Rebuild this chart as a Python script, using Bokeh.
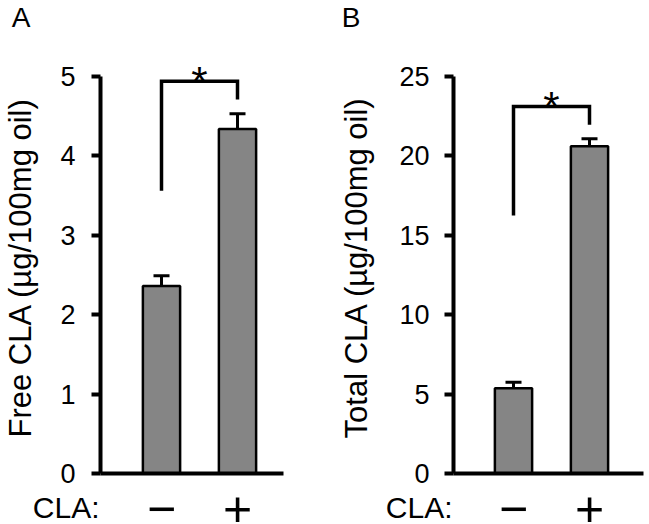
from bokeh.plotting import figure
from bokeh.layouts import row, column
from bokeh.models import (ColumnDataSource, FixedTicker, Whisker, TeeHead,
                          Range1d)
from bokeh.embed import file_html
from bokeh.resources import INLINE
from bokeh.core.properties import value

# ---------------- data ----------------
groups = ["\u2212", "+"]          # CLA treatment: minus / plus
xpos = [1, 2]

free_mean = [2.36, 4.34]
free_sem = [0.13, 0.19]
free_bracket = [3.56, 4.94, 4.71]      # left foot, top, right foot
free_ticks = [0, 1, 2, 3, 4, 5]

total_mean = [5.37, 20.61]
total_sem = [0.38, 0.47]
total_bracket = [16.25, 23.11, 21.96]
total_ticks = [0, 5, 10, 15, 20, 25]

FONT = "Liberation Sans"

TOP_H = 34
MAIN_TOP = 27
FRAME_H = 412
MAIN_BOTTOM = 17
BOT_H = 524 - TOP_H - MAIN_TOP - FRAME_H - MAIN_BOTTOM
AXIS_PX = 397.0
SPACING = 76.0


def blank(fig):
    fig.outline_line_color = None
    fig.background_fill_color = "white"
    fig.border_fill_color = "white"
    for g in fig.grid:
        g.visible = False


def label_axis(ax, tick, text, size, standoff):
    ax.ticker = FixedTicker(ticks=[tick])
    ax.major_label_overrides = {tick: text}
    ax.axis_line_color = None
    ax.major_tick_line_color = None
    ax.minor_tick_line_color = None
    ax.major_tick_out = 0
    ax.major_tick_in = 0
    ax.major_label_standoff = standoff
    ax.major_label_text_font = FONT
    ax.major_label_text_font_size = size
    ax.major_label_text_color = "black"


def make_panel(letter, ylabel, means, sems, bracket, ticks,
               width, border_left, frame_w, bar_off_px,
               tick_standoff, label_standoff, letter_right_px):
    border_right = width - border_left - frame_w
    ymax = ticks[-1]
    ppu_y = AXIS_PX / ymax
    y_end = FRAME_H / ppu_y

    x_start = 1 - bar_off_px / SPACING
    x_end = x_start + frame_w / SPACING
    xr = Range1d(x_start, x_end)

    # ---- top strip: panel letter ----
    top = figure(width=width, height=TOP_H, output_backend="svg",
                 toolbar_location=None, x_axis_location=None,
                 x_range=xr, y_range=Range1d(0, TOP_H),
                 min_border_left=border_left, min_border_right=border_right,
                 min_border_top=0, min_border_bottom=0)
    blank(top)
    label_axis(top.yaxis[0], 17, letter, "28px",
               border_left - letter_right_px)

    # ---- main plot ----
    p = figure(width=width, height=MAIN_TOP + FRAME_H + MAIN_BOTTOM,
               output_backend="svg", toolbar_location=None,
               x_range=xr, y_range=Range1d(0, y_end),
               min_border_left=border_left, min_border_right=border_right,
               min_border_top=MAIN_TOP, min_border_bottom=MAIN_BOTTOM)
    blank(p)

    ya = p.yaxis[0]
    ya.ticker = FixedTicker(ticks=ticks)
    ya.bounds = (0, ymax)
    ya.axis_line_width = 4
    ya.axis_line_color = "black"
    ya.major_tick_line_width = 4
    ya.major_tick_line_color = "black"
    ya.major_tick_out = 9
    ya.major_tick_in = 0
    ya.minor_tick_line_color = None
    ya.major_label_text_font = FONT
    ya.major_label_text_font_size = "27px"
    ya.major_label_text_color = "black"
    ya.major_label_standoff = tick_standoff
    ya.axis_label = ylabel
    ya.axis_label_text_font = FONT
    ya.axis_label_text_font_size = "31px"
    ya.axis_label_text_font_style = "normal"
    ya.axis_label_text_color = "black"
    ya.axis_label_standoff = label_standoff

    xa = p.xaxis[0]
    xa.ticker = FixedTicker(ticks=[])
    xa.axis_line_width = 4
    xa.axis_line_color = "black"
    xa.major_tick_line_color = None
    xa.minor_tick_line_color = None
    xa.major_tick_out = 0
    xa.major_tick_in = 0
    xa.major_label_standoff = 0
    xa.major_label_text_font_size = "0px"

    src = ColumnDataSource(dict(x=xpos, mean=means,
                                upper=[m + s for m, s in zip(means, sems)]))

    p.vbar(x="x", top="mean", width=0.49, source=src,
           fill_color="#858585", line_color="black", line_width=2.5)

    p.add_layout(Whisker(base="x", lower="mean", upper="upper", source=src,
                         dimension="height", line_width=3, line_color="black",
                         upper_head=TeeHead(size=16, line_width=3,
                                            line_color="black"),
                         lower_head=None, level="overlay"))

    # significance bracket and star
    p.line(x=[xpos[0], xpos[0], xpos[1], xpos[1]],
           y=[bracket[0], bracket[1], bracket[1], bracket[2]],
           line_width=3.5, line_color="black", line_join="miter")
    p.text(x=[(xpos[0] + xpos[1]) / 2], y=[bracket[1]], text=["*"],
           text_font=value(FONT), text_font_size="42px",
           text_align="center", text_baseline="middle",
           text_color="black")

    # ---- bottom strip: treatment labels under the bars ----
    bot = figure(width=width, height=BOT_H, output_backend="svg",
                 toolbar_location=None, x_axis_location=None,
                 x_range=xr, y_range=Range1d(0, BOT_H),
                 min_border_left=border_left, min_border_right=border_right,
                 min_border_top=0, min_border_bottom=0)
    blank(bot)
    bsrc = ColumnDataSource(dict(x=xpos, grp=groups, y=[16] * len(xpos)))
    bot.text(x="x", y="y", text="grp", source=bsrc,
             text_font=value(FONT), text_font_size="50px",
             text_align="center", text_baseline="middle", text_color="black")
    label_axis(bot.yaxis[0], 17, "CLA:", "30px", 1)

    return column(top, p, bot, spacing=0)


pa = make_panel("A", "Free CLA (\u00b5g/100mg oil)", free_mean, free_sem,
                free_bracket, free_ticks,
                width=336, border_left=100, frame_w=183,
                bar_off_px=61.0, tick_standoff=16, label_standoff=19,
                letter_right_px=30)
pb = make_panel("B", "Total CLA (\u00b5g/100mg oil)", total_mean, total_sem,
                total_bracket, total_ticks,
                width=313, border_left=117, frame_w=190,
                bar_off_px=60.0, tick_standoff=15, label_standoff=22,
                letter_right_px=24)

layout = row(pa, pb, spacing=0)
open("out.html", "w").write(file_html(layout, INLINE))
